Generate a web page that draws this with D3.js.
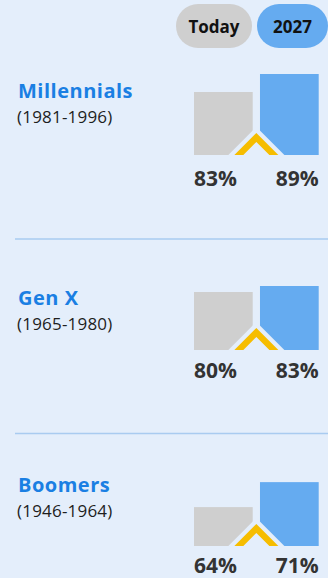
<!DOCTYPE html>
<html>
<head>
<meta charset="utf-8">
<script src="https://cdn.jsdelivr.net/npm/d3@7"></script>
<style>
  html, body { margin: 0; padding: 0; background: #e4eefb; }
  svg { display: block; font-family: "Open Sans", sans-serif; }
</style>
</head>
<body>
<svg id="chart" width="328" height="578"></svg>
<script>
// Share of each generation, today vs. projected 2027
const periods = ["Today", "2027"];
const generations = ["Millennials", "Gen X", "Boomers"];
const birthYears = ["(1981-1996)", "(1965-1980)", "(1946-1964)"];
const todayValues = [83, 80, 64];
const futureValues = [89, 83, 71];
// Value range shown by each row's bars (bars start at the floor value)
const scaleFloor = [62, 51, 53.1];
const scaleCeil = [89, 91.5, 75.8];

const colors = {
  bg: "#e4eefb",
  title: "#1a7fe3",
  text: "#1e1e1e",
  value: "#333333",
  today: "#cfcfcf",
  future: "#65abf0",
  chevron: "#f6bd00",
  rule: "#a9cbf0"
};

const W = 328, H = 578;
const svg = d3.select("#chart");
svg.append("rect").attr("width", W).attr("height", H).attr("fill", colors.bg);

// Layout of each row
const rowBase = [155, 350, 546];       // bar baseline
const titleBase = [98, 305, 492];      // title baseline
const labelGap = [31, 27.5, 27];       // value label baseline below bars
const barMaxH = 81;

const x = d3.scaleBand().domain(periods).range([194, 318.7]).paddingInner(0.11);

// Period pills in the header
const pills = [
  { p: "Today", x0: 176, x1: 252, fill: colors.today },
  { p: "2027", x0: 257, x1: 328, fill: colors.future }
];
const pill = svg.append("g").selectAll("g").data(pills).join("g");
pill.append("rect")
  .attr("x", d => d.x0).attr("y", 4).attr("width", d => d.x1 - d.x0).attr("height", 44)
  .attr("rx", 22).attr("fill", d => d.fill);
pill.append("text")
  .attr("x", d => (d.x0 + d.x1) / 2).attr("y", 32.5)
  .attr("text-anchor", "middle").attr("font-weight", 700).attr("font-size", 17)
  .attr("fill", "#111111").text(d => d.p);

// Separators between rows
[239, 433.5].forEach(y => {
  svg.append("line").attr("x1", 15).attr("x2", W).attr("y1", y).attr("y2", y)
    .attr("stroke", colors.rule).attr("stroke-width", 1.6);
});

generations.forEach((gen, i) => {
  const B = rowBase[i];
  const g = svg.append("g");
  const y = d3.scaleLinear().domain([scaleFloor[i], scaleCeil[i]]).range([B, B - barMaxH]);
  const vals = [todayValues[i], futureValues[i]];
  const data = periods.map((p, k) => ({ p, v: vals[k] }));

  g.append("text").attr("x", 18).attr("y", titleBase[i])
    .attr("font-weight", 700).attr("font-size", 20).attr("letter-spacing", 0.5)
    .attr("fill", colors.title).text(gen);
  g.append("text").attr("x", 17).attr("y", titleBase[i] + 25)
    .attr("font-size", 17).attr("letter-spacing", 0.2)
    .attr("fill", colors.text).text(birthYears[i]);

  g.selectAll("rect.bar").data(data).join("rect").attr("class", "bar")
    .attr("x", d => x(d.p)).attr("width", x.bandwidth())
    .attr("y", d => y(d.v)).attr("height", d => B - y(d.v))
    .attr("fill", (d, k) => k === 0 ? colors.today : colors.future);

  // Rising chevron between the bars, set off by a background-coloured notch
  const cx = (x("Today") + x.bandwidth() + x("2027")) / 2;
  g.append("path")
    .attr("d", `M${cx - 28},${B} L${cx},${B - 28} L${cx + 28},${B} Z`)
    .attr("fill", colors.bg);
  g.append("path")
    .attr("d", `M${cx - 22},${B} L${cx},${B - 22} L${cx + 22},${B} L${cx + 13},${B} L${cx},${B - 13} L${cx - 13},${B} Z`)
    .attr("fill", colors.chevron);

  g.selectAll("text.val").data(data).join("text").attr("class", "val")
    .attr("x", (d, k) => k === 0 ? x(d.p) : x(d.p) + x.bandwidth())
    .attr("y", B + labelGap[i])
    .attr("text-anchor", (d, k) => k === 0 ? "start" : "end")
    .attr("font-weight", 700).attr("font-size", 21).attr("fill", colors.value)
    .text(d => d.v + "%");
});
</script>
</body>
</html>
